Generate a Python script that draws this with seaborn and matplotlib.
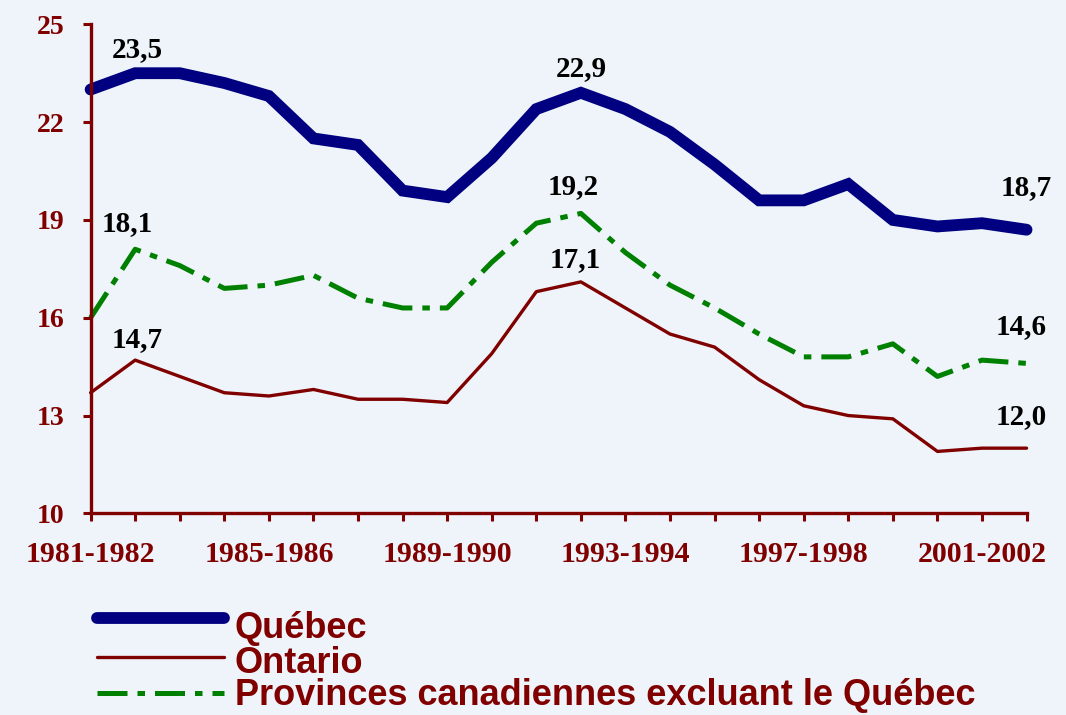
import matplotlib
matplotlib.use('Agg')
import matplotlib.pyplot as plt
import matplotlib.lines as mlines
import seaborn as sns
import pandas as pd

# --- data ---
periods = ['1981-1982', '1982-1983', '1983-1984', '1984-1985', '1985-1986', '1986-1987',
           '1987-1988', '1988-1989', '1989-1990', '1990-1991', '1991-1992', '1992-1993',
           '1993-1994', '1994-1995', '1995-1996', '1996-1997', '1997-1998', '1998-1999',
           '1999-2000', '2000-2001', '2001-2002', '2002-2003']
quebec = [23.0, 23.5, 23.5, 23.2, 22.8, 21.5, 21.3, 19.9, 19.7, 20.9, 22.4,
          22.9, 22.4, 21.7, 20.7, 19.6, 19.6, 20.1, 19.0, 18.8, 18.9, 18.7]
ontario = [13.7, 14.7, 14.2, 13.7, 13.6, 13.8, 13.5, 13.5, 13.4, 14.9, 16.8,
           17.1, 16.3, 15.5, 15.1, 14.1, 13.3, 13.0, 12.9, 11.9, 12.0, 12.0]
autres = [16.0, 18.1, 17.6, 16.9, 17.0, 17.3, 16.6, 16.3, 16.3, 17.7, 18.9,
          19.2, 18.0, 17.0, 16.3, 15.5, 14.8, 14.8, 15.2, 14.2, 14.7, 14.6]
tick_labels = ['1981-1982', '', '', '', '1985-1986', '', '', '', '1989-1990', '', '', '',
               '1993-1994', '', '', '', '1997-1998', '', '', '', '2001-2002', '']
y_ticks = [10, 13, 16, 19, 22, 25]
series_names = ['Québec', 'Ontario', 'Provinces canadiennes excluant le Québec']

bg = '#EEF4F9'
dark_red = '#800000'
navy = '#000080'
green = '#008000'
dashdot = (0, (6, 2, 1.5, 2))

sns.set_theme(style='white')
plt.rcParams['font.family'] = ['Liberation Serif', 'DejaVu Serif']

df = pd.DataFrame({'idx': range(len(periods)), 'Québec': quebec,
                   'Ontario': ontario, 'Autres': autres})

fig = plt.figure(figsize=(10.66, 7.15), dpi=100, facecolor=bg)
ax = fig.add_axes([0.085, 0.282, 0.878, 0.684])
ax.set_facecolor(bg)

sns.lineplot(data=df, x='idx', y='Autres', ax=ax, color=green, linewidth=3.6,
             linestyle=dashdot, clip_on=False, legend=False)
sns.lineplot(data=df, x='idx', y='Ontario', ax=ax, color=dark_red, linewidth=2.4,
             clip_on=False, legend=False)
sns.lineplot(data=df, x='idx', y='Québec', ax=ax, color=navy, linewidth=8.5,
             solid_capstyle='round', solid_joinstyle='miter', clip_on=False, legend=False)

ax.set_xlim(0, len(periods) - 1)
ax.set_ylim(10, 25)
ax.set_xlabel('')
ax.set_ylabel('')

ax.set_xticks(range(len(periods)))
ax.set_xticklabels(tick_labels)
ax.set_yticks(y_ticks)
ax.set_yticklabels([str(t) for t in y_ticks])

for s in ['top', 'right']:
    ax.spines[s].set_visible(False)
for s in ['left', 'bottom']:
    ax.spines[s].set_color(dark_red)
    ax.spines[s].set_linewidth(2.4)

ax.tick_params(axis='x', direction='out', length=6, width=2.2, color=dark_red,
               labelcolor=dark_red, labelsize=21.5, pad=14, bottom=True)
ax.tick_params(axis='y', direction='out', length=6, width=2.2, color=dark_red,
               labelcolor=dark_red, labelsize=20, pad=13, left=True)
for lbl in ax.get_xticklabels() + ax.get_yticklabels():
    lbl.set_fontweight('bold')

# value labels
notes = [(quebec, 1, '23,5', 2, 24), (quebec, 11, '22,9', 0, 24), (quebec, 21, '18,7', 0, 42),
         (autres, 1, '18,1', -8, 26), (autres, 11, '19,2', -8, 27), (autres, 21, '14,6', -5, 37),
         (ontario, 1, '14,7', 2, 21), (ontario, 11, '17,1', -6, 22), (ontario, 21, '12,0', -5, 32)]
for vals, i, txt, dx, dy in notes:
    ax.annotate(txt, (i, vals[i]), xytext=(dx, dy), textcoords='offset pixels',
                ha='center', va='center', fontsize=21, fontweight='bold', color='black')

# legend drawn by hand below the plot
W, H = 1066.0, 715.0
leg_handles = [dict(color=navy, linewidth=8.5, solid_capstyle='round'),
               dict(color=dark_red, linewidth=2.4),
               dict(color=green, linewidth=3.6, linestyle=dashdot)]
handle_y = [618, 657, 693]
text_base = [638, 673, 705]
for name, style, hy, ty in zip(series_names, leg_handles, handle_y, text_base):
    fig.add_artist(mlines.Line2D([97 / W, 224 / W], [1 - hy / H, 1 - hy / H],
                                 transform=fig.transFigure, **style))
    fig.text(235 / W, 1 - ty / H, name, ha='left', va='baseline', color=dark_red,
             fontsize=26, fontweight='bold',
             family=['Liberation Sans Narrow', 'Liberation Sans', 'DejaVu Sans'])

fig.savefig('out.png', dpi=100, facecolor=bg)
